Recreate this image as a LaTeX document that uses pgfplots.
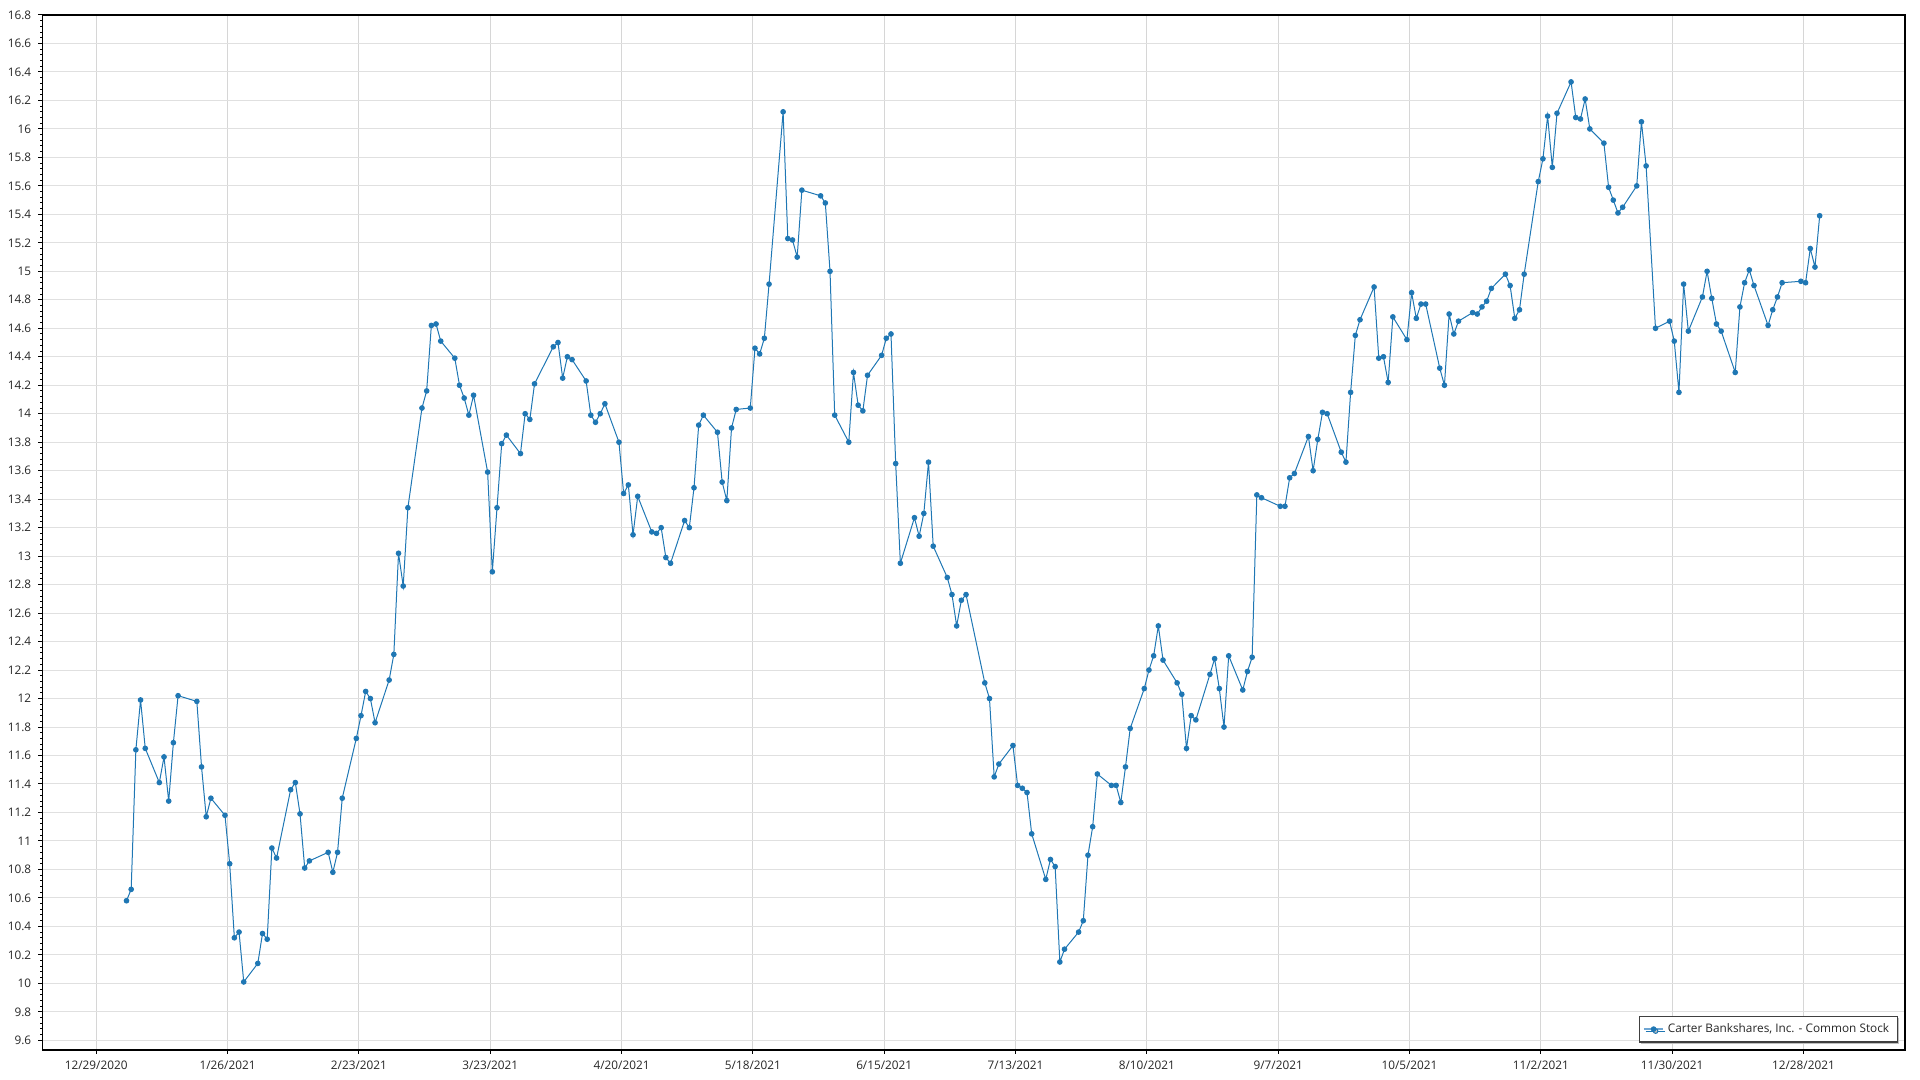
\documentclass[border=0pt]{standalone}
\usepackage{pgfplots}
\usepackage{pgfplotstable}
\pgfplotsset{compat=1.18}
\usepackage{fontspec}
\setmainfont{Open Sans}
\usetikzlibrary{shadows}

\definecolor{series}{RGB}{31,119,180}
\definecolor{serieslight}{RGB}{110,165,210}
\definecolor{gridh}{RGB}{224,224,224}
\definecolor{gridv}{RGB}{214,214,214}

% close price, x = days since 12/29/2020
\pgfplotstableread{
d v
6 10.58
7 10.66
8 11.64
9 11.99
10 11.65
13 11.41
14 11.59
15 11.28
16 11.69
17 12.02
21 11.98
22 11.52
23 11.17
24 11.30
27 11.18
28 10.84
29 10.32
30 10.36
31 10.01
34 10.14
35 10.35
36 10.31
37 10.95
38 10.88
41 11.36
42 11.41
43 11.19
44 10.81
45 10.86
49 10.92
50 10.78
51 10.92
52 11.30
55 11.72
56 11.88
57 12.05
58 12.00
59 11.83
62 12.13
63 12.31
64 13.02
65 12.79
66 13.34
69 14.04
70 14.16
71 14.62
72 14.63
73 14.51
76 14.39
77 14.20
78 14.11
79 13.99
80 14.13
83 13.59
84 12.89
85 13.34
86 13.79
87 13.85
90 13.72
91 14.00
92 13.96
93 14.21
97 14.47
98 14.50
99 14.25
100 14.40
101 14.38
104 14.23
105 13.99
106 13.94
107 14.00
108 14.07
111 13.80
112 13.44
113 13.50
114 13.15
115 13.42
118 13.17
119 13.16
120 13.20
121 12.99
122 12.95
125 13.25
126 13.20
127 13.48
128 13.92
129 13.99
132 13.87
133 13.52
134 13.39
135 13.90
136 14.03
139 14.04
140 14.46
141 14.42
142 14.53
143 14.91
146 16.12
147 15.23
148 15.22
149 15.10
150 15.57
154 15.53
155 15.48
156 15.00
157 13.99
160 13.80
161 14.29
162 14.06
163 14.02
164 14.27
167 14.41
168 14.53
169 14.56
170 13.65
171 12.95
174 13.27
175 13.14
176 13.30
177 13.66
178 13.07
181 12.85
182 12.73
183 12.51
184 12.69
185 12.73
189 12.11
190 12.00
191 11.45
192 11.54
195 11.67
196 11.39
197 11.37
198 11.34
199 11.05
202 10.73
203 10.87
204 10.82
205 10.15
206 10.24
209 10.36
210 10.44
211 10.90
212 11.10
213 11.47
216 11.39
217 11.39
218 11.27
219 11.52
220 11.79
223 12.07
224 12.20
225 12.30
226 12.51
227 12.27
230 12.11
231 12.03
232 11.65
233 11.88
234 11.85
237 12.17
238 12.28
239 12.07
240 11.80
241 12.30
244 12.06
245 12.19
246 12.29
247 13.43
248 13.41
252 13.35
253 13.35
254 13.55
255 13.58
258 13.84
259 13.60
260 13.82
261 14.01
262 14.00
265 13.73
266 13.66
267 14.15
268 14.55
269 14.66
272 14.89
273 14.39
274 14.40
275 14.22
276 14.68
279 14.52
280 14.85
281 14.67
282 14.77
283 14.77
286 14.32
287 14.20
288 14.70
289 14.56
290 14.65
293 14.71
294 14.70
295 14.75
296 14.79
297 14.88
300 14.98
301 14.90
302 14.67
303 14.73
304 14.98
307 15.63
308 15.79
309 16.09
310 15.73
311 16.11
314 16.33
315 16.08
316 16.07
317 16.21
318 16.00
321 15.90
322 15.59
323 15.50
324 15.41
325 15.45
328 15.60
329 16.05
330 15.74
332 14.60
335 14.65
336 14.51
337 14.15
338 14.91
339 14.58
342 14.82
343 15.00
344 14.81
345 14.63
346 14.58
349 14.29
350 14.75
351 14.92
352 15.01
353 14.90
356 14.62
357 14.73
358 14.82
359 14.92
363 14.93
364 14.92
365 15.16
366 15.03
367 15.39
}\stock

\begin{document}
\begin{tikzpicture}
\useasboundingbox (-21.15pt,-15pt) rectangle (938.85pt,525pt);
\begin{axis}[
    scale only axis,
    width=931.35pt, height=517.5pt,
    xmin=-11.5, xmax=385.65,
    ymin=9.532, ymax=16.8,
    xtick={0,28,...,364},
    xticklabels={12/29/2020,1/26/2021,2/23/2021,3/23/2021,4/20/2021,5/18/2021,6/15/2021,7/13/2021,8/10/2021,9/7/2021,10/5/2021,11/2/2021,11/30/2021,12/28/2021},
    ytick={9.6,9.8,10,10.2,10.4,10.6,10.8,11,11.2,11.4,11.6,11.8,12,12.2,12.4,12.6,12.8,13,13.2,13.4,13.6,13.8,14,14.2,14.4,14.6,14.8,15,15.2,15.4,15.6,15.8,16,16.2,16.4,16.6,16.8},
    minor y tick num=4,
    xtick pos=bottom, ytick pos=left,
    tick align=outside,
    major tick length=2pt, minor tick length=1pt,
    every tick/.style={black, line width=0.5pt},
    axis line style={black, line width=0.6pt},
    grid=major,
    x grid style={gridv, line width=0.5pt},
    y grid style={gridh, line width=0.5pt},
    /pgf/number format/assume math mode=true,
    tick label style={font=\fontsize{5.9}{7}\selectfont, text=black!85},
    legend style={at={(1,0)}, anchor=south east, xshift=-3.65pt, yshift=3.65pt,
        draw=black!75, line width=0.6pt, fill=white,
        font=\fontsize{5.9}{7}\selectfont, text=black!85,
        inner xsep=2pt, inner ysep=1.5pt,
        drop shadow={shadow xshift=1pt, shadow yshift=-1pt, fill=black!25, opacity=1}},
    legend cell align=left,
    legend image code/.code={\draw[serieslight, line width=0.7pt] (0cm,0cm) -- (0.34cm,0cm);
        \fill[series] (0.17cm,0cm) circle (1.15pt);},
]
% dates sit about half a day right of the gridlines in the original
\addplot[series, line width=0.5pt, mark=*, mark size=1.15pt, mark options={fill=series, draw=series}] table[x expr=\thisrow{d}+0.45, y=v] {\stock};
\addlegendentry{Carter Bankshares, Inc. - Common Stock}
\end{axis}
\end{tikzpicture}
\end{document}
